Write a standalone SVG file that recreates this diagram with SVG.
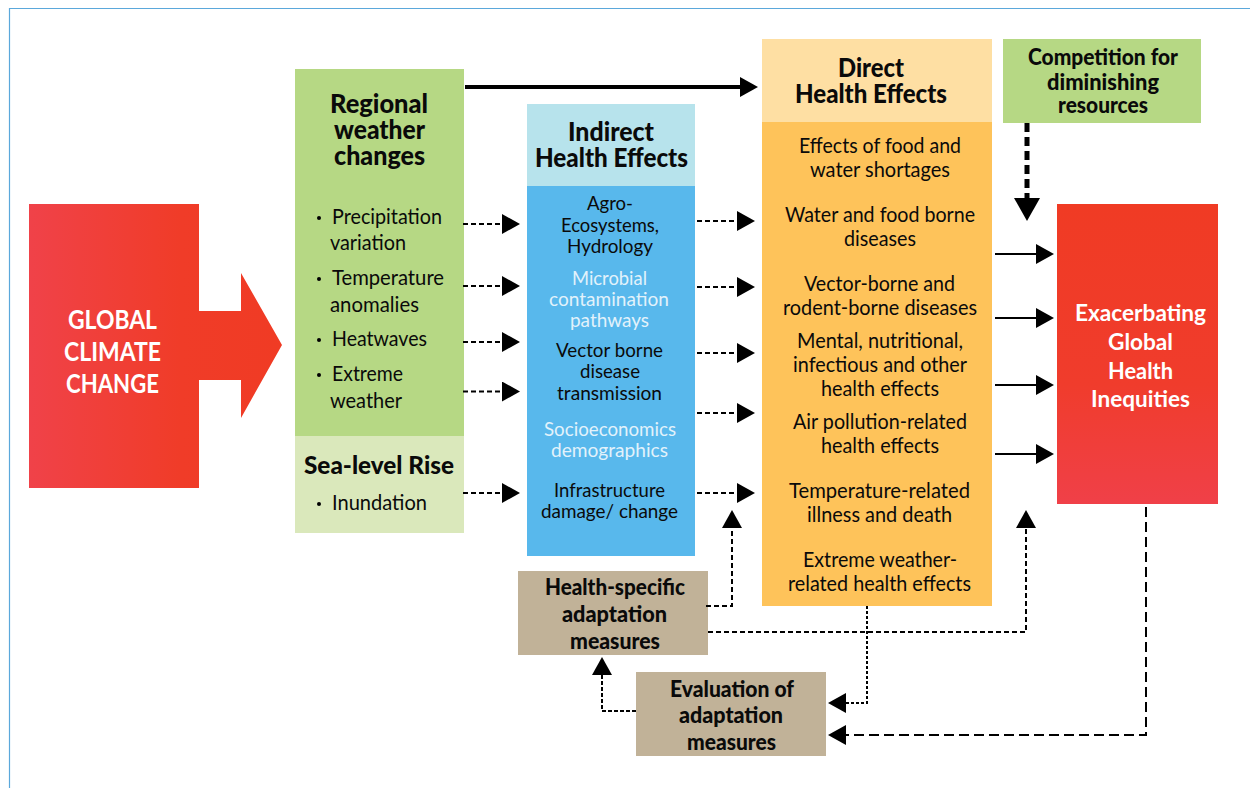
<svg xmlns="http://www.w3.org/2000/svg" width="1250" height="788" viewBox="0 0 1250 788">
<style>
text{font-family:Lato,"Open Sans","Liberation Sans",sans-serif;fill:#0a0a0a;font-size:20px}
.l{font-size:21px}
.b{font-weight:900;font-size:23px}
.h{font-weight:900;font-size:27px}
.w{fill:#fff;font-weight:700}
.p{fill:#e2f2fb}
.d{fill:none;stroke:#000;stroke-width:2;stroke-dasharray:5 3}
.s{fill:none;stroke:#000;stroke-width:2}
</style>
<defs>
<linearGradient id="g1" x1="0" y1="0" x2="1" y2="0"><stop offset="0" stop-color="#F04249"/><stop offset="0.6" stop-color="#F03C28"/><stop offset="1" stop-color="#F03B24"/></linearGradient>
<linearGradient id="g2" x1="0" y1="0" x2="0" y2="1"><stop offset="0" stop-color="#F03B24"/><stop offset="0.6" stop-color="#F03C2C"/><stop offset="1" stop-color="#F04048"/></linearGradient>
<marker id="a" markerUnits="userSpaceOnUse" markerWidth="18" markerHeight="20" viewBox="0 0 18 20" refX="1" refY="10" orient="auto"><path d="M0 0L18 10L0 20Z" fill="#000"/></marker>
</defs>
<path id="frame" d="M1250 8.500H9.500V788" fill="none" stroke="#5BA8DB" stroke-width="1.200"/>

<g id="global-climate-change">
<path d="M29 204H199V311H241V273L282 345L241 418V380H199V488H29Z" fill="url(#g1)"/>
<text class="h w" x="68" y="329" textLength="89" lengthAdjust="spacingAndGlyphs">GLOBAL</text>
<text class="h w" x="64" y="361" textLength="97" lengthAdjust="spacingAndGlyphs">CLIMATE</text>
<text class="h w" x="66" y="393" textLength="93" lengthAdjust="spacingAndGlyphs">CHANGE</text>
</g>

<g id="regional-weather">
<rect x="295" y="69" width="169" height="367" fill="#B6D884"/>
<text class="h" x="330" y="113" textLength="98" lengthAdjust="spacingAndGlyphs">Regional</text>
<text class="h" x="334" y="139" textLength="91" lengthAdjust="spacingAndGlyphs">weather</text>
<text class="h" x="334" y="165" textLength="91" lengthAdjust="spacingAndGlyphs">changes</text>
<circle cx="319" cy="218" r="2"/><circle cx="319" cy="279" r="2"/><circle cx="319" cy="340" r="2"/><circle cx="319" cy="375" r="2"/>
<text class="l" x="332" y="224" textLength="110" lengthAdjust="spacingAndGlyphs">Precipitation</text>
<text class="l" x="330" y="250" textLength="76" lengthAdjust="spacingAndGlyphs">variation</text>
<text class="l" x="332" y="285" textLength="112" lengthAdjust="spacingAndGlyphs">Temperature</text>
<text class="l" x="330" y="312" textLength="89" lengthAdjust="spacingAndGlyphs">anomalies</text>
<text class="l" x="332" y="346" textLength="95" lengthAdjust="spacingAndGlyphs">Heatwaves</text>
<text class="l" x="332" y="381" textLength="71" lengthAdjust="spacingAndGlyphs">Extreme</text>
<text class="l" x="330" y="408" textLength="72" lengthAdjust="spacingAndGlyphs">weather</text>
</g>

<g id="sea-level-rise">
<rect x="295" y="436" width="169" height="97" fill="#DAE8BB"/>
<text class="b" style="font-size:25px" x="304" y="474" textLength="150" lengthAdjust="spacingAndGlyphs">Sea-level Rise</text>
<circle cx="319" cy="504" r="2"/>
<text class="l" x="332" y="510" textLength="95" lengthAdjust="spacingAndGlyphs">Inundation</text>
</g>

<g id="indirect-health-effects">
<rect x="527" y="186" width="168" height="370" fill="#58B8EC"/>
<rect x="527" y="104" width="168" height="82" fill="#B7E3EC"/>
<text class="h" x="568" y="141" textLength="86" lengthAdjust="spacingAndGlyphs">Indirect</text>
<text class="h" x="535" y="167" textLength="153" lengthAdjust="spacingAndGlyphs">Health Effects</text>
<text x="587" y="210" textLength="46" lengthAdjust="spacingAndGlyphs">Agro-</text>
<text x="561" y="232" textLength="98" lengthAdjust="spacingAndGlyphs">Ecosystems,</text>
<text x="567" y="253" textLength="86" lengthAdjust="spacingAndGlyphs">Hydrology</text>
<text class="p" x="572" y="285" textLength="75" lengthAdjust="spacingAndGlyphs">Microbial</text>
<text class="p" x="549" y="306" textLength="120" lengthAdjust="spacingAndGlyphs">contamination</text>
<text class="p" x="570" y="327" textLength="79" lengthAdjust="spacingAndGlyphs">pathways</text>
<text x="556" y="357" textLength="107" lengthAdjust="spacingAndGlyphs">Vector borne</text>
<text x="580" y="378" textLength="60" lengthAdjust="spacingAndGlyphs">disease</text>
<text x="557" y="400" textLength="105" lengthAdjust="spacingAndGlyphs">transmission</text>
<text class="p" x="544" y="436" textLength="132" lengthAdjust="spacingAndGlyphs">Socioeconomics</text>
<text class="p" x="551" y="457" textLength="117" lengthAdjust="spacingAndGlyphs">demographics</text>
<text x="554" y="497" textLength="111" lengthAdjust="spacingAndGlyphs">Infrastructure</text>
<text x="541" y="518" textLength="137" lengthAdjust="spacingAndGlyphs">damage/ change</text>
</g>

<g id="direct-health-effects">
<rect x="762" y="122" width="230" height="484" fill="#FEC35A"/>
<rect x="762" y="39" width="230" height="83" fill="#FEDFA3"/>
<text class="h" x="838" y="77" textLength="66" lengthAdjust="spacingAndGlyphs">Direct</text>
<text class="h" x="795" y="103" textLength="152" lengthAdjust="spacingAndGlyphs">Health Effects</text>
<text class="l" x="799" y="153" textLength="162" lengthAdjust="spacingAndGlyphs">Effects of food and</text>
<text class="l" x="810" y="177" textLength="140" lengthAdjust="spacingAndGlyphs">water shortages</text>
<text class="l" x="785" y="222" textLength="190" lengthAdjust="spacingAndGlyphs">Water and food borne</text>
<text class="l" x="844" y="246" textLength="72" lengthAdjust="spacingAndGlyphs">diseases</text>
<text class="l" x="804" y="291" textLength="151" lengthAdjust="spacingAndGlyphs">Vector-borne and</text>
<text class="l" x="783" y="315" textLength="194" lengthAdjust="spacingAndGlyphs">rodent-borne diseases</text>
<text class="l" x="797" y="348" textLength="166" lengthAdjust="spacingAndGlyphs">Mental, nutritional,</text>
<text class="l" x="793" y="372" textLength="174" lengthAdjust="spacingAndGlyphs">infectious and other</text>
<text class="l" x="821" y="396" textLength="118" lengthAdjust="spacingAndGlyphs">health effects</text>
<text class="l" x="793" y="429" textLength="174" lengthAdjust="spacingAndGlyphs">Air pollution-related</text>
<text class="l" x="821" y="453" textLength="118" lengthAdjust="spacingAndGlyphs">health effects</text>
<text class="l" x="789" y="498" textLength="181" lengthAdjust="spacingAndGlyphs">Temperature-related</text>
<text class="l" x="807" y="522" textLength="145" lengthAdjust="spacingAndGlyphs">illness and death</text>
<text class="l" x="803" y="567" textLength="154" lengthAdjust="spacingAndGlyphs">Extreme weather-</text>
<text class="l" x="788" y="591" textLength="183" lengthAdjust="spacingAndGlyphs">related health effects</text>
</g>

<g id="competition">
<rect x="1003" y="39" width="198" height="84" fill="#B6D884"/>
<text class="b" x="1028" y="65" textLength="150" lengthAdjust="spacingAndGlyphs">Competition for</text>
<text class="b" x="1047" y="90" textLength="112" lengthAdjust="spacingAndGlyphs">diminishing</text>
<text class="b" x="1058" y="113" textLength="90" lengthAdjust="spacingAndGlyphs">resources</text>
</g>

<g id="health-inequities">
<rect x="1057" y="204" width="161" height="300" fill="url(#g2)"/>
<text class="b w" x="1075" y="321" textLength="131" lengthAdjust="spacingAndGlyphs">Exacerbating</text>
<text class="b w" x="1108" y="350" textLength="65" lengthAdjust="spacingAndGlyphs">Global</text>
<text class="b w" x="1108" y="379" textLength="65" lengthAdjust="spacingAndGlyphs">Health</text>
<text class="b w" x="1091" y="407" textLength="99" lengthAdjust="spacingAndGlyphs">Inequities</text>
</g>

<g id="health-specific-adaptation">
<rect x="518" y="571" width="190" height="84" fill="#C1B298"/>
<text class="b" x="545" y="595" textLength="140" lengthAdjust="spacingAndGlyphs">Health-specific</text>
<text class="b" x="562" y="622" textLength="105" lengthAdjust="spacingAndGlyphs">adaptation</text>
<text class="b" x="570" y="649" textLength="90" lengthAdjust="spacingAndGlyphs">measures</text>
</g>

<g id="evaluation-of-adaptation">
<rect x="636" y="672" width="190" height="84" fill="#C1B298"/>
<text class="b" x="670" y="697" textLength="124" lengthAdjust="spacingAndGlyphs">Evaluation of</text>
<text class="b" x="679" y="723" textLength="104" lengthAdjust="spacingAndGlyphs">adaptation</text>
<text class="b" x="687" y="750" textLength="89" lengthAdjust="spacingAndGlyphs">measures</text>
</g>

<g id="connectors">
<path d="M465 87H741" fill="none" stroke="#000" stroke-width="4" marker-end="url(#a)"/>
<path class="d" d="M463 224H503" marker-end="url(#a)"/>
<path class="d" d="M463 286H503" marker-end="url(#a)"/>
<path class="d" d="M463 342H503" marker-end="url(#a)"/>
<path class="d" d="M463 391.500H503" marker-end="url(#a)"/>
<path class="d" d="M463 493H503" marker-end="url(#a)"/>
<path class="d" d="M697 221H738" marker-end="url(#a)"/>
<path class="d" d="M697 287H738" marker-end="url(#a)"/>
<path class="d" d="M697 353H738" marker-end="url(#a)"/>
<path class="d" d="M697 413H738" marker-end="url(#a)"/>
<path class="d" d="M697 493H738" marker-end="url(#a)"/>
<path class="s" d="M995 254H1037" marker-end="url(#a)"/>
<path class="s" d="M995 318H1037" marker-end="url(#a)"/>
<path class="s" d="M995 385H1037" marker-end="url(#a)"/>
<path class="s" d="M995 454H1037" marker-end="url(#a)"/>
<path d="M1027 123V198" fill="none" stroke="#000" stroke-width="5" stroke-dasharray="9 5"/>
<path d="M1014 198H1040L1027 221Z"/>
<path class="d" d="M706 606H732V527" marker-end="url(#a)"/>
<path class="d" d="M708 632H1026V527" marker-end="url(#a)"/>
<path d="M867 606V703H845" fill="none" stroke="#000" stroke-width="2" stroke-dasharray="3 2" marker-end="url(#a)"/>
<path class="d" d="M636 711H602V674" marker-end="url(#a)" style="stroke-dasharray:4 2"/>
<path class="d" d="M1146 507V735H845" marker-end="url(#a)" style="stroke-dasharray:10 5"/>
</g>
</svg>
